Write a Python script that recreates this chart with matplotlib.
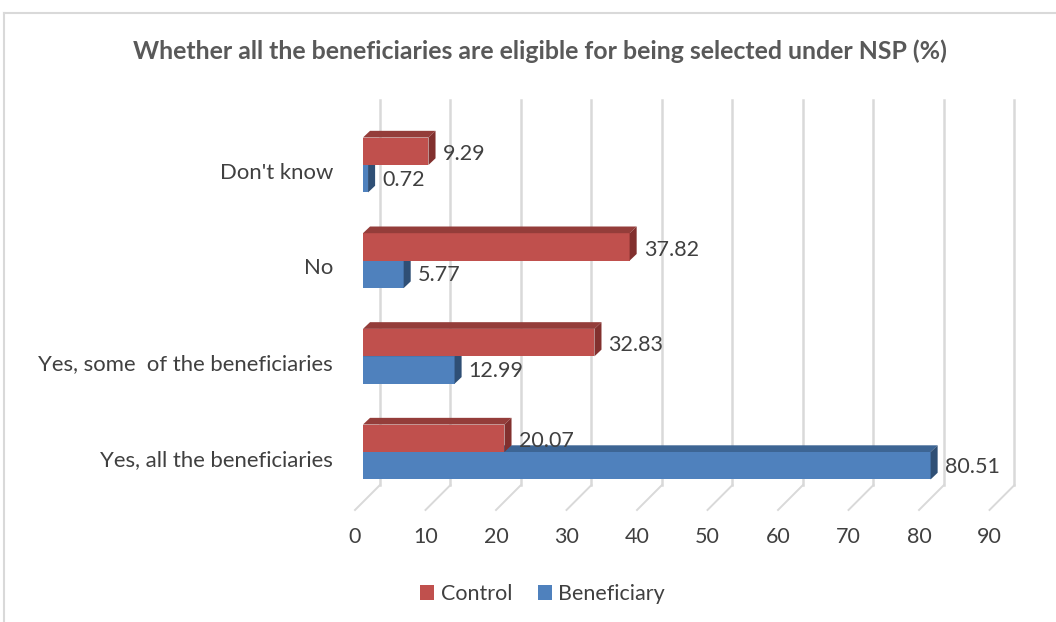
import matplotlib.pyplot as plt
from matplotlib.patches import Polygon, Rectangle
from matplotlib.lines import Line2D

# survey answers, listed bottom to top
categories = ["Yes, all the beneficiaries", "Yes, some  of the beneficiaries", "No", "Don't know"]
control = [20.07, 32.83, 37.82, 9.29]
beneficiary = [80.51, 12.99, 5.77, 0.72]
x_ticks = [0, 10, 20, 30, 40, 50, 60, 70, 80, 90]

TITLE = "Whether all the beneficiaries are eligible for being selected under NSP (%)"

RED, RED_TOP, RED_SIDE = "#C0504D", "#943D3A", "#82302E"
BLUE, BLUE_TOP, BLUE_SIDE = "#4F81BD", "#3D6594", "#2F4F75"
GRID = "#D9D9D9"
TXT = "#404040"

plt.rcParams['font.family'] = ['Lato', 'DejaVu Sans']

fig = plt.figure(figsize=(10.56, 6.22), dpi=100)
ax = fig.add_axes([0.3237, 0.1195, 0.6476, 0.7383])
ax.set_xlim(-3, 94)
ax.set_ylim(-1.0, 3.8)
ax.axis("off")

bar_h = 0.287
dx, dy = 1.0, 0.07      # depth of the 3d bars
wall_dx = 2.41          # back wall offset
floor_dx = -1.13        # front floor offset
wall_top, wall_bot, floor_y = 3.68, -0.345, -0.606

# back wall gridlines + floor diagonals
for v in x_ticks:
    ax.plot([v + wall_dx, v + wall_dx], [wall_bot, wall_top], color=GRID, lw=1.8, zorder=0,
            clip_on=False)
    ax.plot([v + wall_dx, v + floor_dx], [wall_bot, floor_y], color=GRID, lw=1.4, zorder=0,
            clip_on=False)
    ax.text(v + floor_dx, -0.885, str(v), ha="center", va="center", fontsize=15.5, color=TXT)


def bar3d(y0, w, face, top, side):
    ax.add_patch(Rectangle((0, y0), w, bar_h, facecolor=face, edgecolor="none", zorder=2))
    ax.add_patch(Polygon([(0, y0 + bar_h), (w, y0 + bar_h), (w + dx, y0 + bar_h + dy),
                          (dx, y0 + bar_h + dy)], closed=True, facecolor=top,
                         edgecolor="none", zorder=2))
    ax.add_patch(Polygon([(w, y0), (w, y0 + bar_h), (w + dx, y0 + bar_h + dy), (w + dx, y0 + dy)],
                         closed=True, facecolor=side, edgecolor="none", zorder=2))


for i, cat in enumerate(categories):
    # beneficiary below, control on top of it
    bar3d(i - bar_h, beneficiary[i], BLUE, BLUE_TOP, BLUE_SIDE)
    bar3d(i, control[i], RED, RED_TOP, RED_SIDE)
    ax.text(beneficiary[i] + dx + 1.0, i - bar_h / 2 - 0.01, f"{beneficiary[i]:.2f}",
            ha="left", va="center", fontsize=15.5, color=TXT, zorder=3)
    ax.text(control[i] + dx + 1.0, i + bar_h / 2 - 0.03, f"{control[i]:.2f}",
            ha="left", va="center", fontsize=15.5, color=TXT, zorder=3)
    ax.text(-4.26, i - 0.08, cat, ha="right", va="center", fontsize=15.9, color=TXT)

fig.text(0.5115, 0.918, TITLE, ha="center", va="center", fontsize=17.9, fontweight="bold",
         color="#595959")

handles = [Rectangle((0, 0), 1, 1, facecolor=RED), Rectangle((0, 0), 1, 1, facecolor=BLUE)]
fig.legend(handles, ["Control", "Beneficiary"], loc="center", bbox_to_anchor=(0.514, 0.045),
           ncol=2, frameon=False, fontsize=15.5, handlelength=0.65, handleheight=0.65,
           handletextpad=0.3, columnspacing=1.2, labelcolor=TXT)

# chart frame
fig.add_artist(Line2D([4 / 1056, 4 / 1056], [0, 1 - 13 / 622], color=GRID, lw=1.5))
fig.add_artist(Line2D([4 / 1056, 1], [1 - 13 / 622, 1 - 13 / 622], color=GRID, lw=1.5))

fig.savefig("out.png", dpi=100)
